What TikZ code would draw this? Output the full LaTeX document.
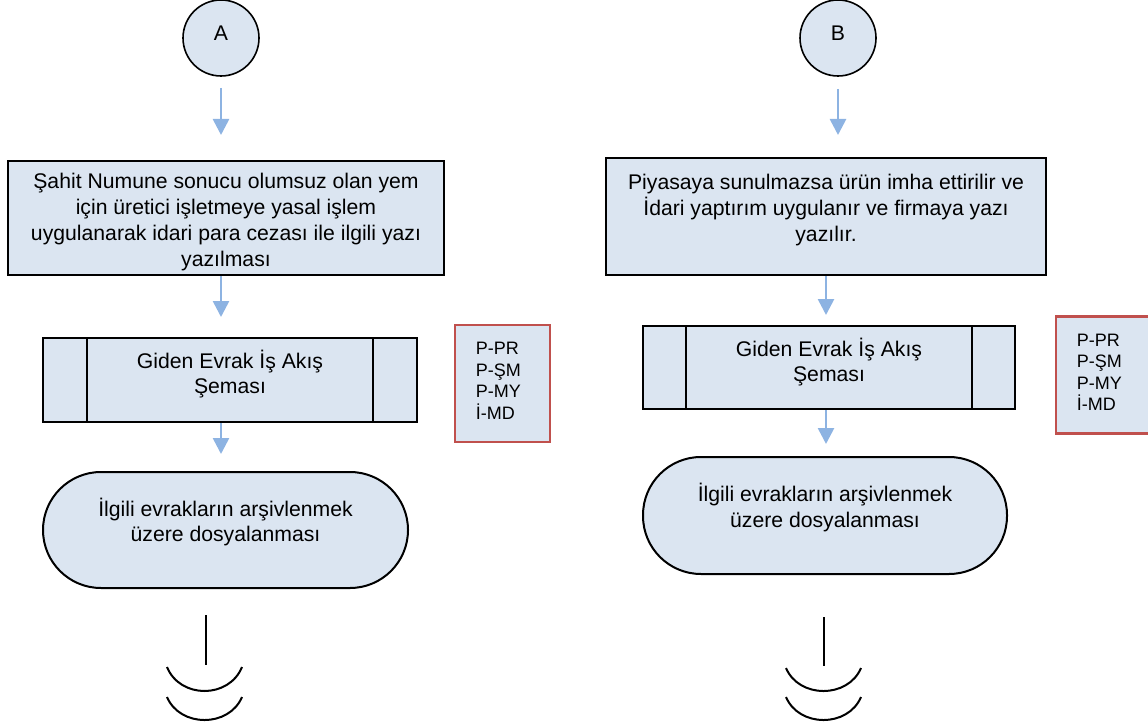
\documentclass[tikz,border=0pt]{standalone}
\usepackage{fontspec}
\setmainfont{Liberation Sans}
\usetikzlibrary{arrows.meta}
\definecolor{boxfill}{RGB}{219,229,241}
\definecolor{flowblue}{RGB}{141,179,226}
\definecolor{redline}{RGB}{192,80,77}
\newcommand{\mainfs}{\fontsize{15.9pt}{19.4pt}\selectfont}
\newcommand{\tagfs}{\fontsize{13.5pt}{16.1pt}\selectfont}
\begin{document}
\begin{tikzpicture}[x=0.75pt,y=-0.75pt,
  shapebox/.style={draw=black, line width=1.5pt, fill=boxfill, inner sep=0pt},
  circ/.style={shapebox, circle, line width=1.2pt, minimum size=57pt},
  procbox/.style={shapebox, rectangle},
  termbox/.style={shapebox, rectangle, rounded corners=43.5pt},
  tagbox/.style={draw=redline, line width=2.2pt, fill=boxfill, rectangle, inner sep=0pt, minimum width=71.25pt, minimum height=87.75pt},
  txt/.style={font=\mainfs, align=center, inner sep=0pt},
  tagtxt/.style={font=\tagfs, align=left, inner sep=0pt, anchor=west},
  flow/.style={draw=flowblue, line width=2pt, -{Triangle[length=12pt,width=12pt]}},
  endline/.style={draw=black, line width=1.5pt}
]
\useasboundingbox (0,0) rectangle (1148,727);
\clip (0,0) rectangle (1148,727);

% ---------- left column ----------
\node[circ] (A) at (221,38) {};
\node[txt] (Atxt) at (221,33) {A};
\node[procbox, minimum width=327pt, minimum height=85.5pt] (b1) at (226,218) {};
\node[txt] (b1txt) at (226,222) {Şahit Numune sonucu olumsuz olan yem\\için üretici işletmeye yasal işlem\\uygulanarak idari para cezası ile ilgili yazı\\yazılması};
\node[procbox, minimum width=280.5pt, minimum height=63pt] (sp1) at (230,380) {};
\draw[line width=1.5pt] ([xshift=33.75pt]sp1.north west) -- ([xshift=33.75pt]sp1.south west);
\draw[line width=1.5pt] ([xshift=-33.75pt]sp1.north east) -- ([xshift=-33.75pt]sp1.south east);
\node[txt] (sp1txt) at (230,374) {Giden Evrak İş Akış\\Şeması};
\node[termbox, minimum width=273.75pt, minimum height=87pt] (t1) at (225.5,530) {};
\node[txt] (t1txt) at (225.5,522) {İlgili evrakların arşivlenmek\\üzere dosyalanması};
\node[tagbox] (r1) at (502.5,383.5) {};
\node[tagtxt] (r1txt) at ([xshift=16.5pt,yshift=2pt]r1.west) {P-PR\\P-ŞM\\P-MY\\İ-MD};

\draw[flow, shorten <=8.25pt, shorten >=18.75pt] (A.south) -- (A.south |- b1.north);
\draw[flow, shorten >=15pt] (b1.south -| A) -- (sp1.north -| A);
\draw[flow, shorten >=12.75pt] (sp1.south -| A) -- (t1.north -| A);

\draw[endline] (206,615) -- (206,665);
\draw[endline] (167,667) .. controls (180,699) and (229,699) .. (242,667);
\draw[endline] (167,697) .. controls (180,727.7) and (229,727.7) .. (242,697);

% ---------- right column ----------
\node[circ] (B) at (838,38) {};
\node[txt] (Btxt) at (838,33) {B};
\node[procbox, minimum width=330pt, minimum height=87.75pt] (b2) at (826,216.5) {};
\node[txt] (b2txt) at (826,210) {Piyasaya sunulmazsa ürün imha ettirilir ve\\İdari yaptırım uygulanır ve firmaya yazı\\yazılır.};
\node[procbox, minimum width=279pt, minimum height=62.25pt] (sp2) at (829,367.5) {};
\draw[line width=1.5pt] ([xshift=33pt]sp2.north west) -- ([xshift=33pt]sp2.south west);
\draw[line width=1.5pt] ([xshift=-33pt]sp2.north east) -- ([xshift=-33pt]sp2.south east);
\node[txt] (sp2txt) at (829,362) {Giden Evrak İş Akış\\Şeması};
\node[termbox, minimum width=273pt, minimum height=87.75pt] (t2) at (825,515.5) {};
\node[txt] (t2txt) at (825,507.5) {İlgili evrakların arşivlenmek\\üzere dosyalanması};
\node[tagbox] (r2) at (1103.5,375) {};
\node[tagtxt] (r2txt) at ([xshift=16.5pt,yshift=2pt]r2.west) {P-PR\\P-ŞM\\P-MY\\İ-MD};

\draw[flow, shorten <=9pt, shorten >=16.5pt] (B.south) -- (B.south |- b2.north);
\draw[flow, shorten >=7.5pt] (b2.south) -- (b2.south |- sp2.north);
\draw[flow, shorten >=9pt] (sp2.south -| b2) -- (t2.north -| b2);

\draw[endline] (824,617) -- (824,666);
\draw[endline] (786,668) .. controls (799,698.7) and (848,698.7) .. (861,668);
\draw[endline] (786,697) .. controls (799,727.7) and (848,727.7) .. (861,697);
\end{tikzpicture}
\end{document}
